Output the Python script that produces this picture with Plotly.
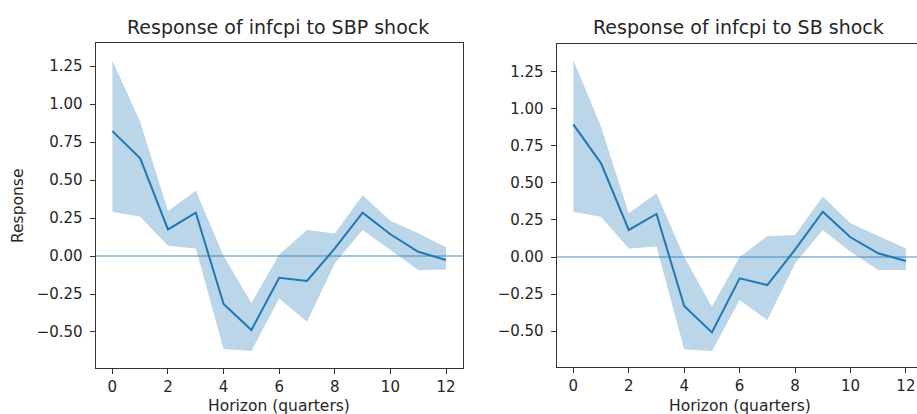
import plotly.graph_objects as go

# Impulse-response horizons (quarters)
horizon = list(range(13))

# Response of infcpi to SBP shock: point estimate and confidence band
sbp_irf = [0.822, 0.643, 0.175, 0.285, -0.316, -0.487, -0.143, -0.164, 0.05, 0.285, 0.143, 0.028, -0.026]
sbp_upper = [1.285, 0.884, 0.296, 0.43, 0.0, -0.31, 0.01, 0.171, 0.149, 0.40, 0.232, 0.15, 0.057]
sbp_lower = [0.292, 0.259, 0.068, 0.05, -0.612, -0.625, -0.279, -0.432, -0.048, 0.171, 0.04, -0.092, -0.088]

# Response of infcpi to SB shock: point estimate and confidence band
sb_irf = [0.894, 0.631, 0.182, 0.29, -0.33, -0.508, -0.144, -0.189, 0.05, 0.305, 0.133, 0.025, -0.027]
sb_upper = [1.327, 0.878, 0.294, 0.429, 0.0, -0.335, 0.0, 0.14, 0.148, 0.407, 0.227, 0.14, 0.058]
sb_lower = [0.305, 0.272, 0.058, 0.07, -0.622, -0.633, -0.29, -0.425, -0.043, 0.182, 0.036, -0.088, -0.088]

titles = ["Response of infcpi to SBP shock", "Response of infcpi to SB shock"]

x_tick_vals = [0, 2, 4, 6, 8, 10, 12]
y_tick_vals = [-0.5, -0.25, 0.0, 0.25, 0.5, 0.75, 1.0, 1.25]
y_tick_text = ["\u22120.50", "\u22120.25", "0.00", "0.25", "0.50", "0.75", "1.00", "1.25"]

W, H = 917, 414
C0 = "#1f77b4"
BAND = "rgba(31,119,180,0.30)"
TXT = "#262626"
FONT = "DejaVu Sans"

fig = go.Figure()

panels = [
    (sbp_irf, sbp_upper, sbp_lower, "x", "y"),
    (sb_irf, sb_upper, sb_lower, "x2", "y2"),
]
for irf, up, lo, xa, ya in panels:
    fig.add_trace(go.Scatter(
        x=horizon + horizon[::-1], y=up + lo[::-1],
        fill="toself", fillcolor=BAND, line=dict(width=0),
        mode="lines", hoverinfo="skip", showlegend=False, xaxis=xa, yaxis=ya,
    ))
    fig.add_trace(go.Scatter(
        x=horizon, y=irf, mode="lines", line=dict(color=C0, width=2),
        showlegend=False, xaxis=xa, yaxis=ya,
    ))

# axes boxes in pixel positions (left, right, top, bottom)
left_box = (95.7, 462.7, 43.3, 367.7)
right_box = (556.7, 917.0, 44.3, 366.7)


def xdom(b):
    return [b[0] / W, b[1] / W]


def ydom(b):
    return [1 - b[3] / H, 1 - b[2] / H]


axis_common = dict(
    showgrid=False, zeroline=False, showline=True, linecolor="#333333", linewidth=1.2,
    ticks="outside", ticklen=5, tickwidth=1.1, tickcolor="#333333",
    tickfont=dict(family=FONT, size=15, color=TXT),
)

fig.update_layout(
    width=W, height=H, margin=dict(l=0, r=0, t=0, b=0),
    paper_bgcolor="white", plot_bgcolor="white",
    font=dict(family=FONT, color=TXT),
    xaxis=dict(domain=xdom(left_box), range=[-0.6, 12.6], tickvals=x_tick_vals,
               mirror=True, anchor="y", **axis_common),
    yaxis=dict(domain=ydom(left_box), range=[-0.735, 1.40], tickvals=y_tick_vals,
               ticktext=y_tick_text, mirror=True, anchor="x", ticklabelstandoff=4,
               **axis_common),
    xaxis2=dict(domain=xdom(right_box), range=[-0.6, 12.40], tickvals=x_tick_vals,
                mirror=True, anchor="y2", **axis_common),
    yaxis2=dict(domain=ydom(right_box), range=[-0.739, 1.433], tickvals=y_tick_vals,
                ticktext=y_tick_text, mirror=False, anchor="x2", ticklabelstandoff=4,
                **axis_common),
)

# horizontal reference line at zero in each panel
for xa, ya in [("x", "y"), ("x2", "y2")]:
    fig.add_shape(type="line", xref=f"{xa} domain", yref=ya, x0=0, x1=1, y0=0, y1=0,
                  line=dict(color=C0, width=1.2), opacity=0.8)

annotations = []
for title, box, cx in [(titles[0], left_box, 278), (titles[1], right_box, 738)]:
    annotations.append(dict(text=title, x=cx / W, y=1 - 27 / H, xref="paper", yref="paper",
                            xanchor="center", yanchor="middle", showarrow=False,
                            font=dict(family=FONT, size=19, color=TXT)))
    annotations.append(dict(text="Horizon (quarters)", x=(box[0] + 183) / W, y=1 - 406 / H,
                            xref="paper", yref="paper", xanchor="center", yanchor="middle",
                            showarrow=False, font=dict(family=FONT, size=15.5, color=TXT)))
annotations.append(dict(text="Response", x=18 / W, y=1 - 206 / H, xref="paper", yref="paper",
                        xanchor="center", yanchor="middle", textangle=-90, showarrow=False,
                        font=dict(family=FONT, size=15.5, color=TXT)))
fig.update_layout(annotations=annotations)

fig.write_html("out.html")
